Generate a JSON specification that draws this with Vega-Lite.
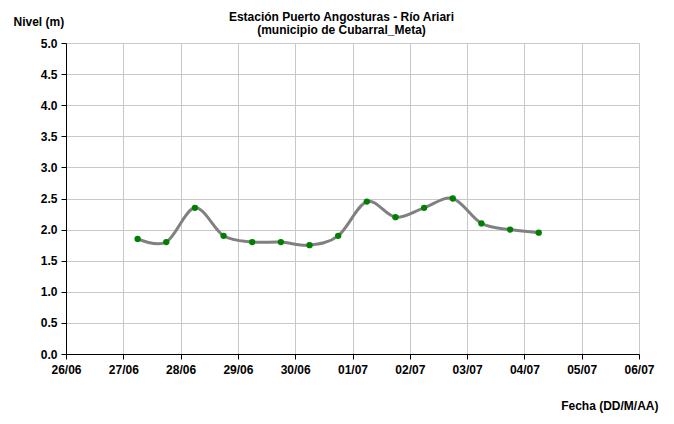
{
  "$schema": "https://vega.github.io/schema/vega-lite/v6.json",
  "width": 573,
  "height": 311,
  "autosize": {"type": "none"},
  "padding": {"left": 66, "top": 43, "right": 35, "bottom": 70},
  "background": "white",
  "config": {
    "font": "Liberation Sans",
    "view": {"stroke": null},
    "axis": {
      "labelFont": "Liberation Sans",
      "labelFontWeight": "bold",
      "labelFontSize": 12,
      "labelColor": "black",
      "titleFont": "Liberation Sans",
      "titleFontWeight": "bold",
      "titleFontSize": 12,
      "titleColor": "black",
      "domainColor": "black",
      "domainWidth": 1,
      "tickColor": "black",
      "tickSize": 5,
      "gridColor": "#c8c8c8",
      "gridWidth": 1
    }
  },
  "title": {
    "text": ["Estación Puerto Angosturas - Río Ariari", "(municipio de Cubarral_Meta)"],
    "font": "Liberation Sans",
    "fontSize": 12,
    "fontWeight": "bold",
    "color": "black",
    "anchor": "middle",
    "dx": -11,
    "dy": 31,
    "lineHeight": 13,
    "offset": 9
  },
  "data": {
    "values": [
      {"fecha": "2014-06-27T06:00:00", "nivel": 1.85},
      {"fecha": "2014-06-27T18:00:00", "nivel": 1.8},
      {"fecha": "2014-06-28T06:00:00", "nivel": 2.35},
      {"fecha": "2014-06-28T18:00:00", "nivel": 1.9},
      {"fecha": "2014-06-29T06:00:00", "nivel": 1.8},
      {"fecha": "2014-06-29T18:00:00", "nivel": 1.8},
      {"fecha": "2014-06-30T06:00:00", "nivel": 1.75},
      {"fecha": "2014-06-30T18:00:00", "nivel": 1.9},
      {"fecha": "2014-07-01T06:00:00", "nivel": 2.45},
      {"fecha": "2014-07-01T18:00:00", "nivel": 2.2},
      {"fecha": "2014-07-02T06:00:00", "nivel": 2.35},
      {"fecha": "2014-07-02T18:00:00", "nivel": 2.5},
      {"fecha": "2014-07-03T06:00:00", "nivel": 2.1},
      {"fecha": "2014-07-03T18:00:00", "nivel": 2.0},
      {"fecha": "2014-07-04T06:00:00", "nivel": 1.95}
    ]
  },
  "encoding": {
    "x": {
      "field": "fecha",
      "type": "temporal",
      "scale": {
        "domain": [{"year": 2014, "month": 6, "date": 26}, {"year": 2014, "month": 7, "date": 6}],
        "nice": false
      },
      "axis": {
        "title": "Fecha (DD/M/AA)",
        "format": "%d/%m",
        "tickCount": {"interval": "day", "step": 1},
        "labelPadding": 5,
        "labelFlush": false,
        "labelOverlap": false,
        "titleAnchor": "start",
        "titleAlign": "right",
        "titleBaseline": "alphabetic",
        "titleX": 592,
        "titleY": 55
      }
    },
    "y": {
      "field": "nivel",
      "type": "quantitative",
      "scale": {"domain": [0, 5], "nice": false, "zero": true},
      "axis": {
        "title": "Nivel (m)",
        "values": [0, 0.5, 1, 1.5, 2, 2.5, 3, 3.5, 4, 4.5, 5],
        "format": ".1f",
        "labelPadding": 4,
        "titleAngle": 0,
        "titleAlign": "left",
        "titleBaseline": "alphabetic",
        "titleX": -53,
        "titleY": -18
      }
    }
  },
  "layer": [
    {
      "mark": {"type": "line", "color": "#808080", "strokeWidth": 3, "interpolate": "cardinal"}
    },
    {
      "mark": {"type": "point", "filled": true, "color": "#008000", "opacity": 1, "size": 40}
    }
  ]
}
